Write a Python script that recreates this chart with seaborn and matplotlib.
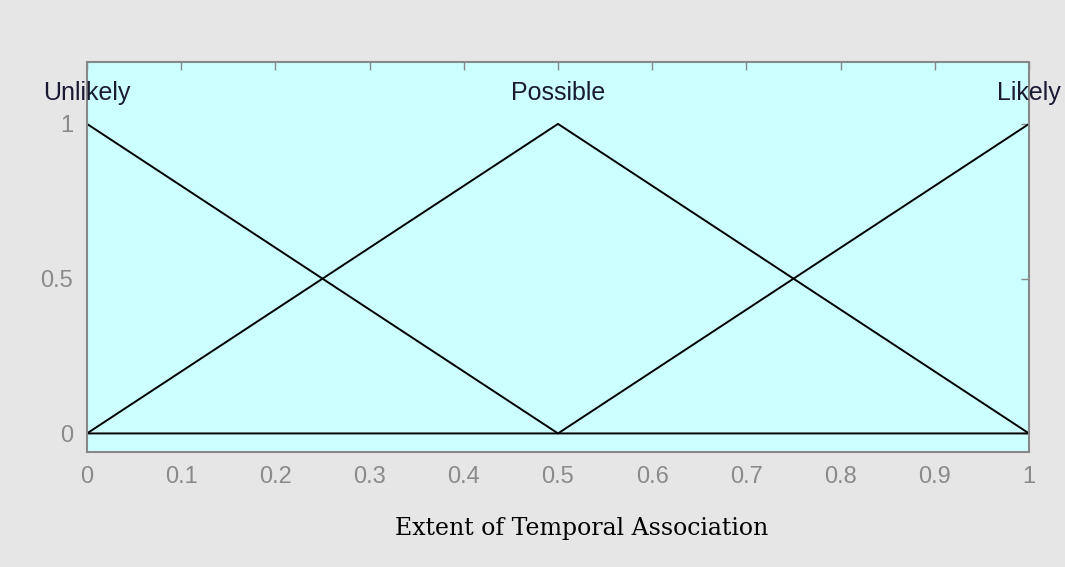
import numpy as np
import pandas as pd
import seaborn as sns
import matplotlib.pyplot as plt

# Membership functions (triangles)
x_pts = [0.0, 0.5, 1.0]
unlikely = [1.0, 0.0, 0.0]
possible = [0.0, 1.0, 0.0]
likely = [0.0, 0.0, 1.0]
mf_names = ["Unlikely", "Possible", "Likely"]
mf_peaks = [0.0, 0.5, 1.0]
x_ticks = [0, 0.1, 0.2, 0.3, 0.4, 0.5, 0.6, 0.7, 0.8, 0.9, 1]
y_ticks = [0, 0.5, 1]

sns.set_style("white")
plt.rcParams['font.family'] = ['Liberation Sans', 'DejaVu Sans']

fig = plt.figure(figsize=(10.65, 5.67), dpi=100, facecolor="#e6e6e6")
ax = fig.add_axes([87 / 1065, 1 - 452 / 567, (1029 - 87) / 1065, (452 - 62) / 567])
ax.set_facecolor("#ccffff")

for ys in [unlikely, possible, likely]:
    df = pd.DataFrame({"x": x_pts, "y": ys})
    sns.lineplot(data=df, x="x", y="y", ax=ax, color="black", linewidth=1.4)

for name, px in zip(mf_names, mf_peaks):
    ax.text(px, 1.1, name, ha="center", va="center", fontsize=18, color="#1a1a33")

ax.set_xlim(0, 1)
ax.set_ylim(-0.06, 1.2)
ax.set_xticks(x_ticks)
ax.set_xticklabels([f"{t:g}" for t in x_ticks])
ax.set_yticks(y_ticks)
ax.set_yticklabels([f"{t:g}" for t in y_ticks])
ax.tick_params(direction="in", length=6, width=1, colors="#888888", labelsize=17,
               top=True, right=True, pad=10)
ax.tick_params(axis="both", labelcolor="#8a8a8a")
for s in ax.spines.values():
    s.set_color("#888888")
    s.set_linewidth(1.5)
ax.set_ylabel("")
ax.set_xlabel("")
fig.text(582 / 1065, 1 - 528 / 567, "Extent of Temporal Association",
         family=["DejaVu Serif"], fontsize=17, color="black",
         ha="center", va="center")

fig.savefig("out.png", dpi=100, facecolor=fig.get_facecolor())
